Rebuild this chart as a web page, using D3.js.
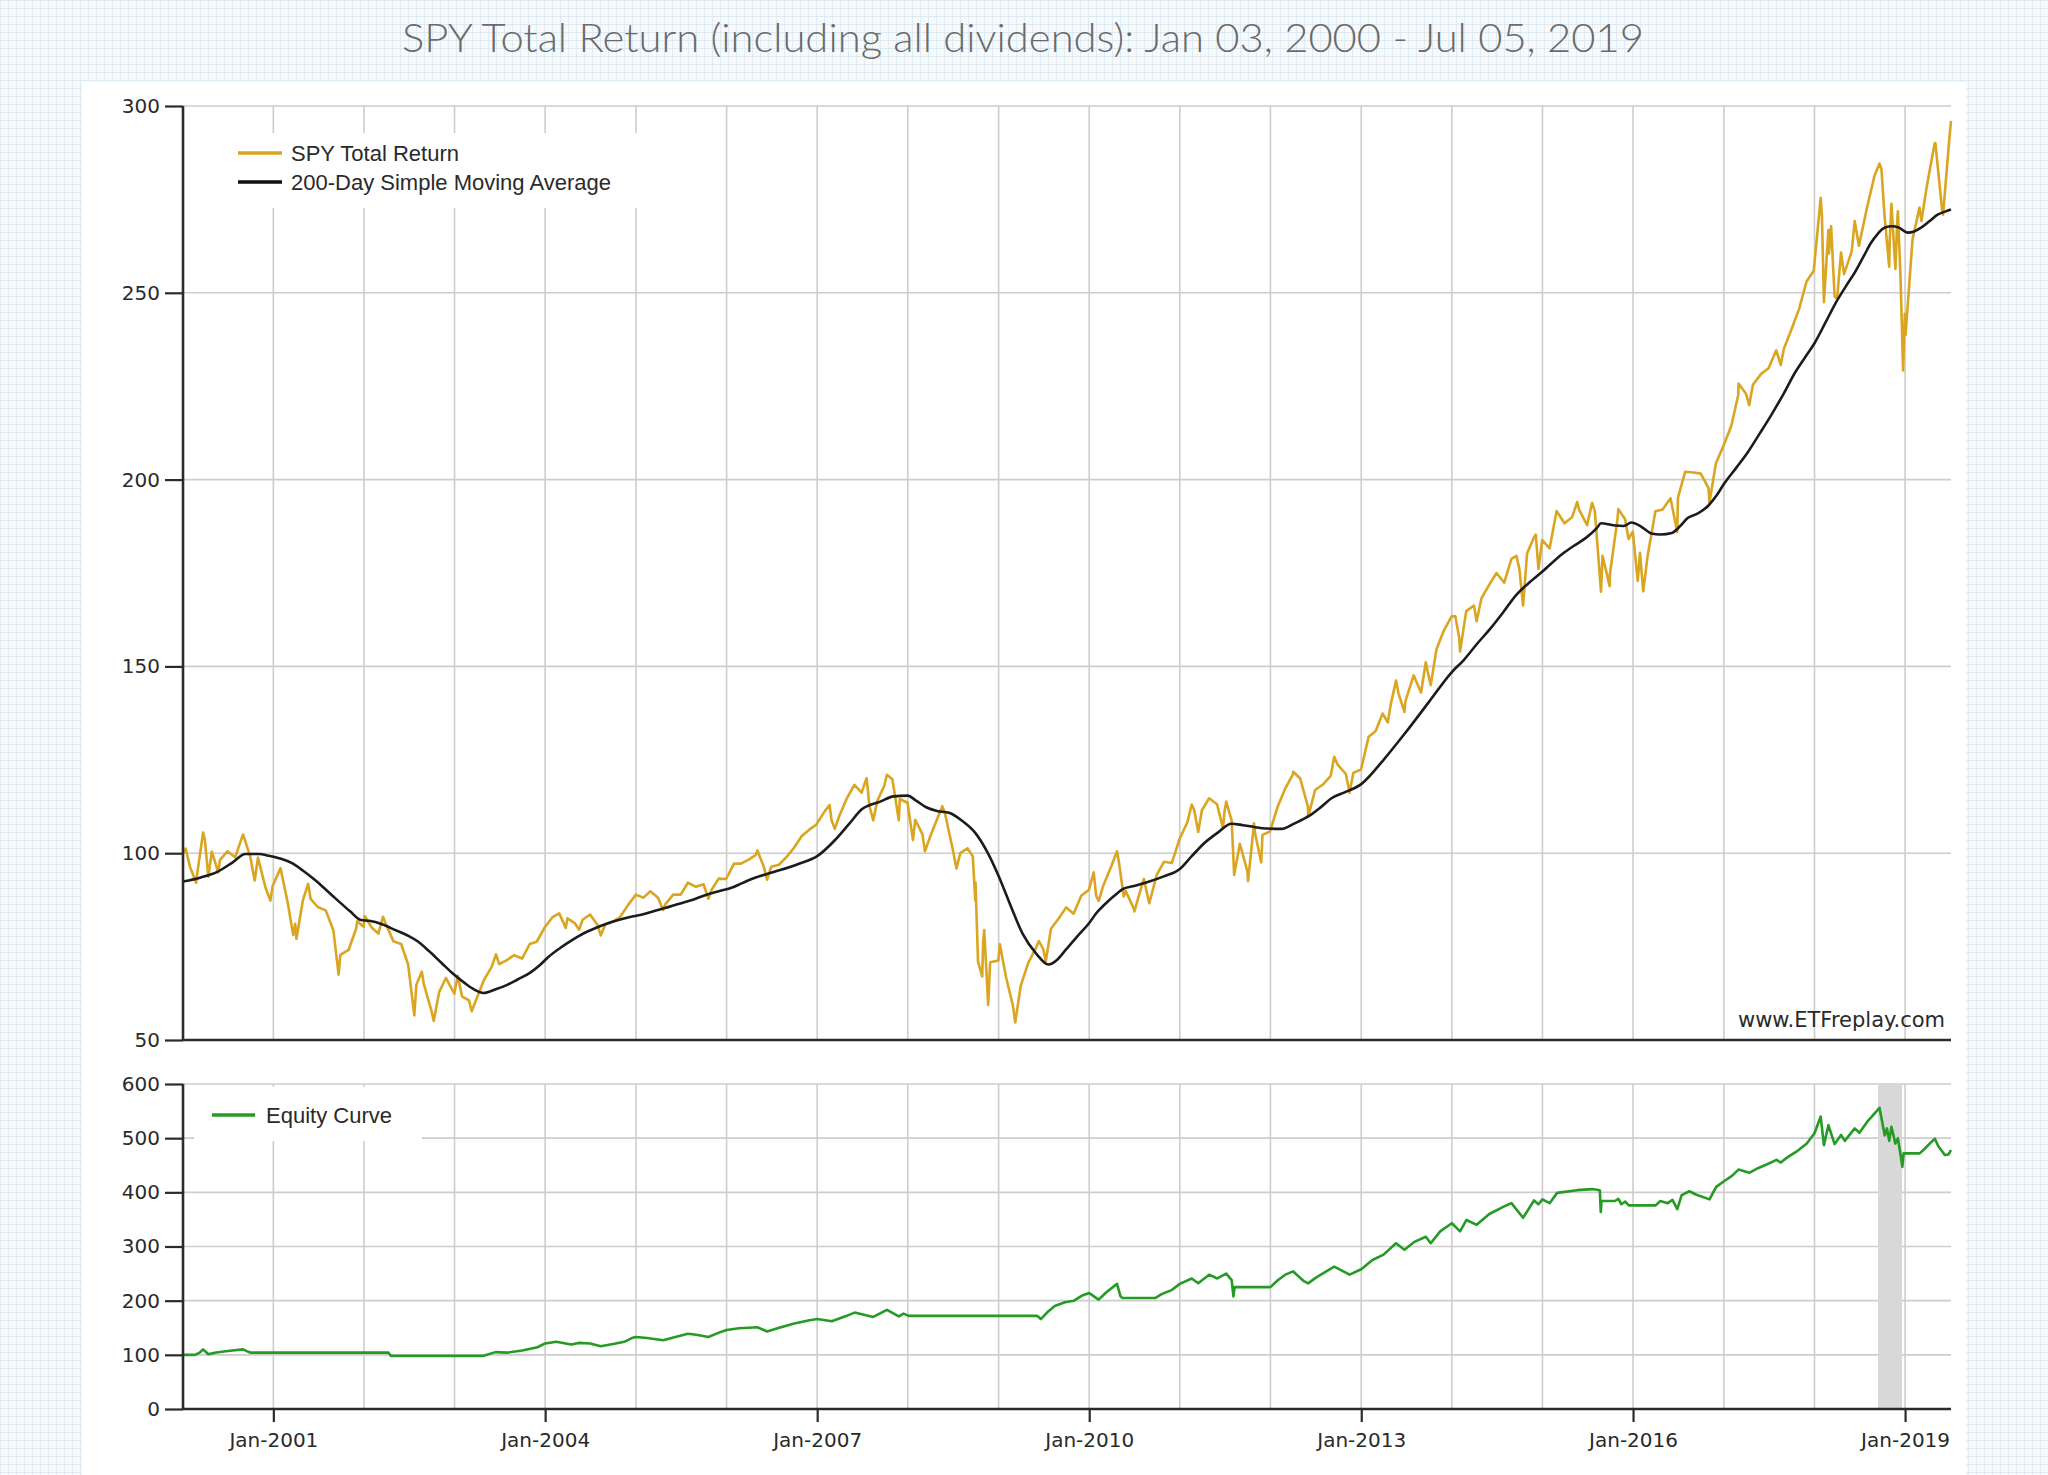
<!DOCTYPE html>
<html>
<head>
<meta charset="utf-8">
<script src="https://cdn.jsdelivr.net/npm/d3@7"></script>
<style>
  body { margin: 0; background: #fff; }
  svg { display: block; }
</style>
</head>
<body>
<script>
(function() {
  "use strict";

  // SPY total return index (Jan 03 2000 = 100)
  const spyTR = [
    ["2000-01-03",100.0],["2000-01-14",101.2],["2000-01-31",96.4],["2000-02-25",92.1],["2000-02-29",94.4],["2000-03-24",105.5],["2000-03-31",103.6],["2000-04-14",93.7],["2000-04-28",100.4],["2000-05-24",94.9],["2000-05-31",98.2],["2000-06-30",100.5],["2000-07-31",98.9],["2000-08-31",104.9],["2000-09-01",105.0],["2000-09-29",99.3],["2000-10-18",92.7],["2000-10-31",98.8],["2000-11-30",90.9],["2000-12-20",87.3],["2000-12-29",91.2],
    ["2001-01-30",96.0],["2001-02-28",86.7],["2001-03-22",78.1],["2001-03-30",81.1],["2001-04-04",77.1],["2001-04-30",87.4],["2001-05-21",91.8],["2001-05-31",87.8],["2001-06-29",85.6],["2001-07-31",84.7],["2001-08-31",79.3],["2001-09-21",67.5],["2001-09-28",72.8],["2001-10-31",74.1],["2001-11-30",79.7],["2001-12-05",81.8],["2001-12-31",80.3],
    ["2002-01-04",83.2],["2002-01-31",80.2],["2002-02-28",78.5],["2002-03-19",83.0],["2002-03-28",81.4],["2002-04-30",76.4],["2002-05-31",75.7],["2002-06-28",70.2],["2002-07-23",56.6],["2002-07-31",64.7],["2002-08-22",68.3],["2002-08-30",65.0],["2002-09-30",57.8],["2002-10-09",55.1],["2002-10-31",62.8],["2002-11-27",66.6],["2002-12-31",62.4],
    ["2003-01-14",67.2],["2003-01-31",61.7],["2003-02-28",60.6],["2003-03-11",57.7],["2003-03-31",61.1],["2003-04-30",66.1],["2003-05-30",69.5],["2003-06-17",72.9],["2003-06-30",70.3],["2003-07-31",71.4],["2003-08-29",72.7],["2003-09-30",71.8],["2003-10-31",75.7],["2003-11-28",76.3],["2003-12-31",80.2],
    ["2004-01-31",82.9],["2004-02-27",83.9],["2004-03-24",80.0],["2004-03-31",82.6],["2004-04-30",81.2],["2004-05-17",79.5],["2004-05-31",82.2],["2004-06-30",83.6],["2004-07-30",80.8],["2004-08-12",78.0],["2004-08-31",81.0],["2004-09-30",81.7],["2004-10-29",82.9],["2004-11-30",86.1],["2004-12-31",88.9],
    ["2005-01-31",88.1],["2005-02-28",89.8],["2005-03-31",88.1],["2005-04-20",84.8],["2005-04-29",86.3],["2005-05-31",88.9],["2005-06-30",88.9],["2005-07-29",92.1],["2005-08-31",91.0],["2005-09-30",91.7],["2005-10-20",87.8],["2005-10-31",90.0],["2005-11-30",93.2],["2005-12-30",93.1],
    ["2006-01-31",97.2],["2006-02-28",97.2],["2006-03-31",98.3],["2006-04-28",99.5],["2006-05-05",100.7],["2006-05-31",96.4],["2006-06-13",92.9],["2006-06-30",96.4],["2006-07-31",96.9],["2006-08-31",99.0],["2006-09-29",101.4],["2006-10-31",104.6],["2006-11-30",106.3],["2006-12-29",107.7],
    ["2007-01-31",111.2],["2007-02-20",112.9],["2007-02-28",108.8],["2007-03-13",106.5],["2007-03-30",109.8],["2007-04-30",114.6],["2007-05-31",118.3],["2007-06-29",116.2],["2007-07-19",120.1],["2007-07-31",112.5],["2007-08-15",108.8],["2007-08-31",114.0],["2007-09-28",118.0],["2007-10-09",121.0],["2007-10-31",119.8],["2007-11-26",108.8],["2007-11-30",114.5],["2007-12-31",113.5],
    ["2008-01-22",103.5],["2008-01-31",108.9],["2008-02-29",105.1],["2008-03-10",100.5],["2008-03-31",104.4],["2008-04-30",109.4],["2008-05-19",112.6],["2008-05-30",110.6],["2008-06-30",101.1],["2008-07-15",95.9],["2008-07-31",100.1],["2008-08-29",101.3],["2008-09-19",99.1],["2008-09-29",87.3],["2008-09-30",92.1],["2008-10-10",71.0],["2008-10-27",67.0],["2008-10-31",76.5],["2008-11-04",79.4],["2008-11-20",59.4],["2008-11-28",70.8],["2008-12-31",71.3],
    ["2009-01-06",75.6],["2009-01-31",66.8],["2009-02-27",59.4],["2009-03-09",54.7],["2009-03-31",64.5],["2009-04-30",70.6],["2009-05-29",74.3],["2009-06-12",76.5],["2009-06-30",74.3],["2009-07-10",71.1],["2009-07-31",79.8],["2009-08-31",82.5],["2009-09-30",85.5],["2009-10-30",83.8],["2009-11-30",88.6],["2009-12-31",90.2],
    ["2010-01-19",94.9],["2010-01-29",88.6],["2010-02-08",87.2],["2010-02-26",91.2],["2010-03-31",96.5],["2010-04-23",100.5],["2010-04-30",97.9],["2010-05-20",88.4],["2010-05-28",89.9],["2010-06-30",85.1],["2010-07-02",84.4],["2010-07-30",90.9],["2010-08-09",93.1],["2010-08-31",86.6],["2010-09-30",94.2],["2010-10-29",97.7],["2010-11-30",97.4],["2010-12-31",103.8],
    ["2011-01-31",108.2],["2011-02-18",113.0],["2011-02-28",111.6],["2011-03-16",105.7],["2011-03-31",111.5],["2011-04-29",114.7],["2011-05-31",113.1],["2011-06-24",106.7],["2011-06-30",111.1],["2011-07-07",113.8],["2011-07-29",108.7],["2011-08-08",94.2],["2011-08-31",102.5],["2011-09-30",95.2],["2011-10-03",92.5],["2011-10-27",108.0],["2011-10-31",105.4],["2011-11-25",97.5],["2011-11-30",104.9],["2011-12-30",105.8],
    ["2012-01-31",112.6],["2012-02-29",117.2],["2012-03-30",120.9],["2012-04-02",121.8],["2012-04-30",120.0],["2012-05-31",112.5],["2012-06-01",109.7],["2012-06-29",116.9],["2012-07-31",118.4],["2012-08-31",120.7],["2012-09-14",125.8],["2012-09-28",123.7],["2012-10-31",121.2],["2012-11-15",116.2],["2012-11-30",121.5],["2012-12-31",122.4],
    ["2013-01-31",131.2],["2013-02-28",132.7],["2013-03-28",137.4],["2013-04-18",135.0],["2013-04-30",139.9],["2013-05-21",146.2],["2013-05-31",142.8],["2013-06-24",137.8],["2013-06-28",140.7],["2013-07-31",147.6],["2013-08-30",143.0],["2013-09-18",151.1],["2013-09-30",147.3],["2013-10-08",145.0],["2013-10-31",154.6],["2013-11-29",159.5],["2013-12-31",163.4],
    ["2014-01-15",163.4],["2014-01-31",157.5],["2014-02-03",154.0],["2014-02-28",164.8],["2014-03-31",166.3],["2014-04-11",162.1],["2014-04-30",168.2],["2014-05-30",171.7],["2014-06-30",175.0],["2014-07-31",172.4],["2014-08-29",178.8],["2014-09-18",179.6],["2014-09-30",176.1],["2014-10-15",166.3],["2014-10-31",180.2],["2014-11-28",184.6],["2014-12-05",185.3],["2014-12-16",176.1],["2014-12-31",183.8],
    ["2015-01-30",181.6],["2015-02-27",191.6],["2015-03-31",188.3],["2015-04-30",189.9],["2015-05-21",194.0],["2015-05-29",191.9],["2015-06-30",187.8],["2015-07-20",193.8],["2015-07-31",191.6],["2015-08-25",170.0],["2015-08-31",179.6],["2015-09-29",171.5],["2015-09-30",174.8],["2015-10-30",189.3],["2015-11-03",192.1],["2015-11-30",189.4],["2015-12-14",184.1],["2015-12-31",186.1],
    ["2016-01-20",172.9],["2016-01-29",180.4],["2016-02-11",170.1],["2016-02-29",179.7],["2016-03-31",191.5],["2016-04-29",192.0],["2016-05-31",195.0],["2016-06-27",186.0],["2016-06-30",195.2],["2016-07-29",202.1],["2016-08-31",201.9],["2016-09-30",201.6],["2016-10-31",197.7],["2016-11-04",193.9],["2016-11-30",204.4],["2016-12-30",209.0],
    ["2017-01-31",214.4],["2017-02-28",222.7],["2017-03-01",225.7],["2017-03-31",223.0],["2017-04-13",219.9],["2017-04-28",225.4],["2017-05-31",228.3],["2017-06-30",229.8],["2017-07-31",234.6],["2017-08-18",230.7],["2017-08-31",235.1],["2017-09-29",240.0],["2017-10-31",245.7],["2017-11-30",253.0],["2017-12-29",255.9],
    ["2018-01-26",275.4],["2018-01-31",270.7],["2018-02-08",247.5],["2018-02-26",266.8],["2018-02-28",260.5],["2018-03-09",267.8],["2018-03-23",249.0],["2018-04-02",248.4],["2018-04-18",260.8],["2018-04-30",255.0],["2018-05-31",261.1],["2018-06-12",269.2],["2018-06-29",262.6],["2018-07-31",272.6],["2018-08-31",281.4],["2018-09-20",284.6],["2018-09-28",283.0],["2018-10-10",270.8],["2018-10-29",257.0],["2018-10-31",263.9],["2018-11-07",273.8],["2018-11-23",256.4],["2018-11-30",268.8],["2018-12-03",271.8],["2018-12-14",253.4],["2018-12-24",229.2],["2018-12-31",244.4],
    ["2019-01-03",238.8],["2019-01-31",264.3],["2019-02-28",272.8],["2019-03-08",269.2],["2019-03-29",278.3],["2019-04-30",290.0],["2019-05-03",290.1],["2019-05-31",271.6],["2019-06-03",270.9],["2019-06-28",291.0],["2019-07-05",296.0]
  ];

  // 200-day simple moving average of the index
  const sma200 = [
    ["2000-01-03",92.4],["2000-03-15",93.5],["2000-05-20",95.0],["2000-07-20",97.5],["2000-09-10",99.8],["2000-11-05",99.8],["2000-12-15",99.3],
    ["2001-02-01",98.5],["2001-03-15",97.4],["2001-05-01",95.3],["2001-06-18",92.8],["2001-08-01",90.2],["2001-09-15",87.5],["2001-11-05",84.5],["2001-12-20",82.1],
    ["2002-01-22",81.9],["2002-03-15",81.0],["2002-05-08",79.4],["2002-07-01",77.8],["2002-08-08",76.3],["2002-09-20",73.8],["2002-11-10",70.6],["2002-12-25",67.8],
    ["2003-02-10",65.3],["2003-03-22",63.5],["2003-04-28",62.6],["2003-06-13",63.5],["2003-07-30",64.7],["2003-09-12",66.2],["2003-10-30",67.9],["2003-12-10",70.0],
    ["2004-01-15",72.3],["2004-03-03",74.7],["2004-04-20",76.8],["2004-06-03",78.5],["2004-07-20",79.9],["2004-09-05",81.1],["2004-10-22",82.1],["2004-12-08",82.9],
    ["2005-01-22",83.5],["2005-03-10",84.4],["2005-04-28",85.3],["2005-06-20",86.4],["2005-08-15",87.5],["2005-09-25",88.5],["2005-11-01",89.3],["2005-12-10",90.0],
    ["2006-01-15",90.6],["2006-03-05",92.0],["2006-04-20",93.3],["2006-06-15",94.5],["2006-08-05",95.5],["2006-10-20",97.2],
    ["2007-01-01",99.2],["2007-03-15",103.6],["2007-05-08",107.7],["2007-07-01",111.8],["2007-09-12",113.8],["2007-11-05",115.2],["2007-12-31",115.4],
    ["2008-02-05",114.0],["2008-03-15",112.3],["2008-04-28",111.3],["2008-06-15",110.8],["2008-08-08",108.6],["2008-09-28",105.5],["2008-11-15",100.5],
    ["2009-01-01",93.9],["2009-02-18",86.0],["2009-04-08",78.4],["2009-06-03",73.0],["2009-07-20",70.2],["2009-08-25",71.5],["2009-09-28",74.1],["2009-11-15",77.8],
    ["2010-01-01",81.3],["2010-01-30",84.0],["2010-03-03",86.2],["2010-04-12",88.6],["2010-05-20",90.5],["2010-07-01",91.2],["2010-08-22",92.2],["2010-10-28",93.8],
    ["2011-01-01",95.8],["2011-02-18",99.2],["2011-04-08",102.6],["2011-06-03",105.5],["2011-07-28",107.9],["2011-09-12",107.5],["2011-10-28",107.0],["2011-12-20",106.6],
    ["2012-02-15",106.5],["2012-04-08",108.0],["2012-06-03",109.9],["2012-07-20",112.2],["2012-09-03",114.7],["2012-10-30",116.4],
    ["2013-01-01",118.5],["2013-04-01",125.0],["2013-07-01",132.5],["2013-10-01",140.5],
    ["2014-01-01",148.5],["2014-02-18",151.7],["2014-04-12",156.0],["2014-06-05",160.1],["2014-07-27",164.5],["2014-09-12",168.7],["2014-11-05",172.2],
    ["2015-01-01",175.4],["2015-03-22",180.1],["2015-05-08",182.3],["2015-06-25",184.4],["2015-08-08",187.0],["2015-08-25",188.3],["2015-10-12",187.8],["2015-11-25",187.6],["2015-12-25",188.5],
    ["2016-02-01",187.5],["2016-03-15",185.6],["2016-04-20",185.3],["2016-06-05",185.7],["2016-07-08",187.5],["2016-08-08",189.7],["2016-09-20",191.0],["2016-10-30",193.0],["2016-12-03",195.8],
    ["2017-01-01",198.8],["2017-02-18",203.0],["2017-04-08",207.4],["2017-05-25",212.3],["2017-07-12",217.4],["2017-08-30",223.0],["2017-10-16",228.8],["2017-11-25",232.8],
    ["2018-01-01",236.5],["2018-02-14",242.0],["2018-03-25",247.0],["2018-05-08",251.8],["2018-06-14",255.6],["2018-07-20",260.0],["2018-08-15",263.2],["2018-09-13",265.8],["2018-10-12",267.5],["2018-11-10",267.8],["2018-12-06",267.5],
    ["2019-01-12",266.1],["2019-02-06",266.4],["2019-03-08",267.5],["2019-04-10",269.2],["2019-05-12",270.9],["2019-06-14",271.8],["2019-07-05",272.3]
  ];

  // strategy equity curve
  const equity = [
    ["2000-01-03",100],["2000-02-20",100],["2000-03-10",104],["2000-03-24",110],["2000-04-14",101],["2000-05-10",104],["2000-06-15",106],["2000-07-20",108],["2000-09-01",110],["2000-09-20",106],["2000-10-01",104],
    ["2002-04-10",104],["2002-04-20",98],["2003-04-25",98],["2003-06-15",105],["2003-08-01",104],["2003-10-01",108],["2003-12-01",114],
    ["2004-01-01",121],["2004-02-15",124],["2004-04-15",119],["2004-05-15",122],["2004-06-30",121],["2004-08-12",116],["2004-10-01",120],["2004-11-15",124],["2004-12-15",131],
    ["2005-01-01",133],["2005-02-15",131],["2005-04-20",127],["2005-06-01",132],["2005-07-29",139],["2005-09-01",137],["2005-10-20",133],["2005-12-01",141],
    ["2006-01-01",146],["2006-02-20",149],["2006-05-05",151],["2006-06-13",143],["2006-08-01",150],["2006-10-01",158],["2006-12-01",164],
    ["2007-01-01",166],["2007-03-01",162],["2007-04-30",172],["2007-06-01",178],["2007-08-15",170],["2007-10-09",183],["2007-11-26",171],["2007-12-15",176],
    ["2008-01-05",172],["2009-06-05",172],["2009-06-20",166],["2009-07-15",178],["2009-08-15",190],["2009-09-25",197],["2009-11-01",200],["2009-12-01",209],
    ["2010-01-01",214],["2010-02-08",202],["2010-03-10",215],["2010-04-23",231],["2010-05-07",208],["2010-05-15",205],["2010-09-25",205],["2010-10-20",212],["2010-12-01",220],
    ["2011-01-01",231],["2011-02-18",241],["2011-03-16",232],["2011-04-29",248],["2011-06-01",241],["2011-07-07",250],["2011-07-29",238],["2011-08-05",208],["2011-08-10",225],
    ["2012-01-01",225],["2012-02-01",238],["2012-03-01",248],["2012-04-02",254],["2012-05-15",236],["2012-06-01",232],["2012-07-01",242],["2012-09-14",263],["2012-11-15",248],
    ["2013-01-01",258],["2013-02-15",275],["2013-04-01",285],["2013-05-21",306],["2013-06-24",294],["2013-08-01",308],["2013-09-18",318],["2013-10-08",306],["2013-11-15",328],
    ["2014-01-01",343],["2014-02-03",328],["2014-03-01",349],["2014-04-11",340],["2014-06-01",360],["2014-07-31",374],["2014-08-29",380],["2014-10-15",353],["2014-11-28",385],["2014-12-16",378],
    ["2015-01-01",387],["2015-01-30",380],["2015-03-01",399],["2015-05-21",404],["2015-07-20",406],["2015-08-20",404],["2015-08-24",364],["2015-08-27",384],["2015-10-20",384],["2015-11-03",388],["2015-11-15",378],["2015-12-01",383],["2015-12-15",376],
    ["2016-04-01",376],["2016-04-20",384],["2016-05-20",380],["2016-06-08",386],["2016-06-27",369],["2016-07-15",395],["2016-08-15",402],["2016-09-10",396],["2016-11-04",387],["2016-12-01",410],["2016-12-31",420],
    ["2017-02-01",430],["2017-03-01",442],["2017-04-13",436],["2017-05-20",445],["2017-06-20",451],["2017-08-01",460],["2017-08-18",455],["2017-09-15",465],["2017-10-20",475],["2017-12-01",490],
    ["2018-01-01",509],["2018-01-26",540],["2018-02-08",487],["2018-02-26",524],["2018-03-23",489],["2018-04-18",506],["2018-05-03",495],["2018-06-12",518],["2018-07-01",510],["2018-08-01",530],["2018-09-20",556],
    ["2018-10-11",505],["2018-10-20",518],["2018-10-29",495],["2018-11-07",521],["2018-11-23",490],["2018-12-03",500],["2018-12-12",475],["2018-12-21",447],["2018-12-26",472],
    ["2019-03-01",472],["2019-03-20",480],["2019-04-10",490],["2019-05-01",499],["2019-05-15",485],["2019-06-10",469],["2019-06-25",470],["2019-07-05",478]
  ];

  const shadeRange = ["2018-09-14", "2018-12-20"];
  const yTicksTop = [50, 100, 150, 200, 250, 300];
  const yTicksBottom = [0, 100, 200, 300, 400, 500, 600];
  const xLabelYears = [2001, 2004, 2007, 2010, 2013, 2016, 2019];
  const gridYears = d3.range(2001, 2020);
  const dateRange = ["2000-01-03", "2019-07-05"];

  const W = 2048, H = 1475;
  const parse = d3.timeParse("%Y-%m-%d");
  const GOLD = "#daa520", GREEN = "#259a25", GRID = "#cdcdcd", AXIS = "#2b2b2b";

  const svg = d3.select("body").append("svg").attr("width", W).attr("height", H);

  // graph-paper background
  const pat = svg.append("defs").append("pattern").attr("id", "paper")
    .attr("width", 8).attr("height", 8).attr("patternUnits", "userSpaceOnUse");
  pat.append("rect").attr("width", 8).attr("height", 8).attr("fill", "#f7fafc");
  pat.append("path").attr("d", "M8 0H0V8").attr("fill", "none")
    .attr("stroke", "#d6e5ee").attr("stroke-width", 1.3);
  svg.append("rect").attr("width", W).attr("height", H).attr("fill", "url(#paper)");
  svg.append("rect").attr("x", 82).attr("y", 82).attr("width", 1884).attr("height", H - 82).attr("fill", "#fff");

  svg.append("text").attr("x", 1023).attr("y", 52).attr("text-anchor", "middle")
    .attr("font-family", "Lato, 'Open Sans', Roboto, sans-serif").attr("font-weight", 300)
    .attr("font-size", 40).attr("fill", "#6a6a6a")
    .attr("textLength", 1242).attr("lengthAdjust", "spacingAndGlyphs")
    .text("SPY Total Return (including all dividends): Jan 03, 2000 - Jul 05, 2019");

  const x = d3.scaleTime().domain(dateRange.map(parse)).range([183, 1951]);
  const yTop = d3.scaleLinear().domain([50, 300]).range([1040, 106]);
  const yBot = d3.scaleLinear().domain([0, 600]).range([1409, 1084]);

  function panel(y, ticks) {
    const g = svg.append("g");
    const [y0, y1] = y.range();
    g.selectAll(".vg").data(gridYears).enter().append("line")
      .attr("x1", d => x(new Date(d, 0, 1))).attr("x2", d => x(new Date(d, 0, 1)))
      .attr("y1", y0).attr("y2", y1).attr("stroke", GRID).attr("stroke-width", 1.6);
    g.selectAll(".hg").data(ticks).enter().append("line")
      .attr("x1", x.range()[0]).attr("x2", x.range()[1])
      .attr("y1", d => y(d)).attr("y2", d => y(d)).attr("stroke", GRID).attr("stroke-width", 1.6);
    return g;
  }

  const gTop = panel(yTop, yTicksTop);
  const gBot = panel(yBot, yTicksBottom);

  // shaded band in the equity panel
  gBot.append("rect").attr("x", x(parse(shadeRange[0]))).attr("y", yBot(600))
    .attr("width", x(parse(shadeRange[1])) - x(parse(shadeRange[0])))
    .attr("height", yBot(0) - yBot(600)).attr("fill", "#d8d8d8");

  // legend backgrounds hide the grid
  gTop.append("rect").attr("x", 190).attr("y", 133).attr("width", 465).attr("height", 75).attr("fill", "#fff");
  gBot.append("rect").attr("x", 194).attr("y", 1087).attr("width", 228).attr("height", 54).attr("fill", "#fff");

  const lineOf = y => d3.line().x(d => x(parse(d[0]))).y(d => y(d[1]));

  gTop.append("path").datum(spyTR).attr("d", lineOf(yTop)).attr("fill", "none")
    .attr("stroke", GOLD).attr("stroke-width", 2.6).attr("stroke-linejoin", "round");
  gTop.append("path").datum(sma200).attr("d", lineOf(yTop).curve(d3.curveMonotoneX)).attr("fill", "none")
    .attr("stroke", "#1c1c1c").attr("stroke-width", 2.6);
  gBot.append("path").datum(equity).attr("d", lineOf(yBot)).attr("fill", "none")
    .attr("stroke", GREEN).attr("stroke-width", 2.6).attr("stroke-linejoin", "round");

  // axes
  function styleAxis(g, size) {
    g.selectAll(".domain").remove();
    g.selectAll("line").attr("stroke", AXIS).attr("stroke-width", 2.2);
    g.selectAll("text").attr("fill", "#2a2a2a").attr("font-size", size)
      .attr("font-family", "'DejaVu Sans', Verdana, sans-serif");
  }
  const axTop = svg.append("g").attr("transform", "translate(183,0)")
    .call(d3.axisLeft(yTop).tickValues(yTicksTop).tickSize(18).tickPadding(5));
  styleAxis(axTop, 20);
  const axBot = svg.append("g").attr("transform", "translate(183,0)")
    .call(d3.axisLeft(yBot).tickValues(yTicksBottom).tickSize(18).tickPadding(5));
  styleAxis(axBot, 20);
  const axX = svg.append("g").attr("transform", "translate(0,1409)")
    .call(d3.axisBottom(x).tickValues(xLabelYears.map(d => new Date(d, 0, 1)))
      .tickFormat(d3.timeFormat("%b-%Y")).tickSize(13).tickPadding(11));
  styleAxis(axX, 20);

  // frame lines: left axes and bottom axes
  [[yTop, 300, 50], [yBot, 600, 0]].forEach(([y, hi, lo]) => {
    svg.append("line").attr("x1", 183).attr("x2", 183).attr("y1", y(hi)).attr("y2", y(lo))
      .attr("stroke", AXIS).attr("stroke-width", 2.6);
    svg.append("line").attr("x1", 183).attr("x2", 1951).attr("y1", y(lo)).attr("y2", y(lo))
      .attr("stroke", AXIS).attr("stroke-width", 2.6);
  });

  // legends
  const legFont = "'Liberation Sans', Arial, sans-serif";
  const legTop = [["SPY Total Return", GOLD, 153], ["200-Day Simple Moving Average", "#111", 182]];
  legTop.forEach(([label, col, ly]) => {
    svg.append("line").attr("x1", 238).attr("x2", 282).attr("y1", ly).attr("y2", ly)
      .attr("stroke", col).attr("stroke-width", 3.5);
    svg.append("text").attr("x", 291).attr("y", ly + 8).attr("font-family", legFont)
      .attr("font-size", 22).attr("fill", "#2a2a2a").text(label);
  });
  svg.append("line").attr("x1", 212).attr("x2", 255).attr("y1", 1115).attr("y2", 1115)
    .attr("stroke", GREEN).attr("stroke-width", 3.5);
  svg.append("text").attr("x", 266).attr("y", 1123).attr("font-family", legFont)
    .attr("font-size", 22).attr("fill", "#2a2a2a").text("Equity Curve");

  svg.append("text").attr("x", 1945).attr("y", 1027).attr("text-anchor", "end")
    .attr("font-family", "'DejaVu Sans', Verdana, sans-serif").attr("font-size", 21)
    .attr("fill", "#2a2a2a").text("www.ETFreplay.com");
}());
</script>
</body>
</html>
